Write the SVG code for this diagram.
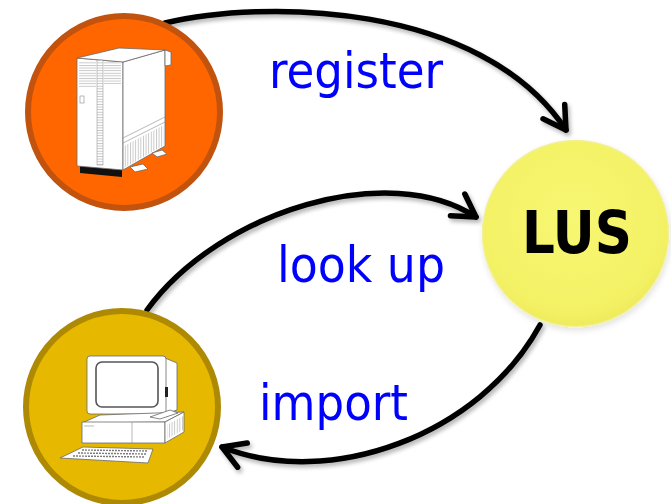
<svg xmlns="http://www.w3.org/2000/svg" width="671" height="504" viewBox="0 0 671 504">
  <defs>
    <style>
      .label { font-family: "DejaVu Sans Condensed", "DejaVu Sans", sans-serif; font-stretch: condensed; font-size: 50px; fill: #0000ff; }
      .lus { font-family: "DejaVu Sans Condensed", "DejaVu Sans", sans-serif; font-stretch: condensed; font-weight: bold; font-size: 58px; fill: #000; }
      .edge { fill: none; stroke: #000; stroke-width: 5.5; stroke-linecap: round; }
      .art { fill: #fff; stroke: #6a6a6a; stroke-width: 0.8; stroke-linejoin: round; }
      .thin { fill: none; stroke: #8a8a8a; stroke-width: 0.6; }
    </style>
    <filter id="shadow" x="-10%" y="-10%" width="130%" height="140%">
      <feGaussianBlur in="SourceAlpha" stdDeviation="2"/>
      <feOffset dx="2" dy="3" result="blur"/>
      <feComponentTransfer><feFuncA type="linear" slope="0.3"/></feComponentTransfer>
      <feMerge><feMergeNode/><feMergeNode in="SourceGraphic"/></feMerge>
    </filter>
    <filter id="soft" x="-10%" y="-10%" width="125%" height="125%">
      <feGaussianBlur in="SourceAlpha" stdDeviation="3"/>
      <feOffset dx="1" dy="3"/>
      <feComponentTransfer><feFuncA type="linear" slope="0.12"/></feComponentTransfer>
      <feMerge><feMergeNode/><feMergeNode in="SourceGraphic"/></feMerge>
    </filter>
    <radialGradient id="lusFill" cx="0.48" cy="0.42" r="0.6">
      <stop offset="0" stop-color="#f8f772"/>
      <stop offset="0.85" stop-color="#f3f164"/>
      <stop offset="1" stop-color="#ecea5a"/>
    </radialGradient>
    <pattern id="hatch" width="4" height="2.6" patternUnits="userSpaceOnUse">
      <rect width="4" height="2.6" fill="#fff"/>
      <line x1="0" y1="0.5" x2="4" y2="0.5" stroke="#8a8a8a" stroke-width="0.5"/>
    </pattern>
    <pattern id="vents" width="2.6" height="4" patternUnits="userSpaceOnUse">
      <rect width="2.6" height="4" fill="#fff"/>
      <line x1="0.5" y1="0" x2="0.5" y2="4" stroke="#8a8a8a" stroke-width="0.5"/>
    </pattern>
    <marker id="chevron" markerUnits="userSpaceOnUse" markerWidth="40" markerHeight="40" viewBox="-30 -20 40 40" refX="0" refY="0" orient="auto">
      <path d="M-22,-13 L0,0 L-22,13" fill="none" stroke="#000" stroke-width="5.5" stroke-linecap="round" stroke-linejoin="round"/>
    </marker>
  </defs>

  <rect width="671" height="504" fill="#fff"/>

  <!-- connectors -->
  <g id="connectors" filter="url(#shadow)">
    <path id="edge-register" class="edge" d="M165,23 C260,0 480,0 566,130" marker-end="url(#chevron)"/>
    <path id="edge-lookup" class="edge" d="M147,310 C220,210 390,160 476,217" marker-end="url(#chevron)"/>
    <path id="edge-import" class="edge" d="M540,325 C480,435 330,490 222,447" marker-end="url(#chevron)"/>
  </g>

  <!-- edge labels -->
  <g id="labels">
    <text class="label" x="269" y="88" textLength="174" lengthAdjust="spacingAndGlyphs">register</text>
    <text class="label" x="277" y="282" textLength="168" lengthAdjust="spacingAndGlyphs">look up</text>
    <text class="label" x="259" y="420" textLength="149" lengthAdjust="spacingAndGlyphs">import</text>
  </g>

  <!-- server node -->
  <g id="server">
    <circle cx="124" cy="112" r="96" fill="#ff6600" stroke="#c2530f" stroke-width="6"/>
    <g id="server-icon">
      <polygon points="80,166 122,170 122,177 80,173" fill="#111"/>
      <polygon class="art" points="77,58 123,62 123,170 77,166"/>
      <polygon class="art" points="123,62 165,50 165,146 123,170"/>
      <polygon class="art" points="77,58 119,48 165,50 123,62"/>
      <polygon class="art" points="165,50 171,52 171,65 165,66"/>
      <!-- front grille and spine -->
      <rect x="79" y="61" width="17" height="27" fill="url(#hatch)"/>
      <rect x="97" y="60" width="6" height="105" fill="url(#hatch)" stroke="#8a8a8a" stroke-width="0.5"/>
      <rect x="104" y="62" width="17" height="22" fill="url(#hatch)"/>
      <rect x="80" y="96" width="4" height="7" class="thin"/>
      <!-- side panel seams and lower vents -->
      <line class="thin" x1="123" y1="138" x2="165" y2="117"/>
      <line class="thin" x1="123" y1="143" x2="165" y2="122"/>
      <polygon points="124,146 164,125 164,145 124,168" fill="url(#vents)"/>
      <!-- feet -->
      <polygon class="art" points="130,167 143,164 148,169 135,172"/>
      <polygon class="art" points="152,153 162,150 167,154 157,157"/>
    </g>
  </g>

  <!-- LUS node -->
  <g id="lus">
    <circle cx="575.5" cy="233.5" r="93" fill="url(#lusFill)" stroke="#f2f09a" stroke-width="1.5" filter="url(#soft)"/>
    <text class="lus" x="577" y="253" text-anchor="middle" textLength="110" lengthAdjust="spacingAndGlyphs">LUS</text>
  </g>

  <!-- client node -->
  <g id="client">
    <circle cx="122" cy="407" r="96" fill="#e6b800" stroke="#ae8a04" stroke-width="6"/>
    <g id="client-icon">
      <!-- monitor -->
      <polygon class="art" points="165,358 177,363 177,410 165,414"/>
      <rect class="art" x="87" y="356" width="79" height="58" rx="3"/>
      <rect x="96" y="362" width="62" height="45" rx="6" fill="#fff" stroke="#555" stroke-width="1.6"/>
      <rect x="165" y="387" width="3" height="10" fill="#222"/>
      <!-- system unit -->
      <polygon class="art" points="82,423 100,415 184,412 165,422"/>
      <polygon class="art" points="150,417 170,410 178,413 160,419"/>
      <rect class="art" x="82" y="422" width="83" height="21"/>
      <line class="thin" x1="132" y1="422" x2="132" y2="443"/>
      <line class="thin" x1="84" y1="426" x2="94" y2="426"/>
      <polygon class="art" points="165,422 184,412 184,432 165,443"/>
      <polygon points="167,425 183,416 183,430 167,439" fill="url(#vents)"/>
      <!-- keyboard -->
      <polygon class="art" points="83,447 153,449 148,463 60,458"/>
      <g stroke="#7a7a7a" stroke-width="1.4" stroke-dasharray="2 1">
        <line x1="82" y1="450" x2="147" y2="451"/>
        <line x1="78" y1="453" x2="146" y2="454"/>
        <line x1="73" y1="456" x2="145" y2="457"/>
      </g>
    </g>
  </g>
</svg>
